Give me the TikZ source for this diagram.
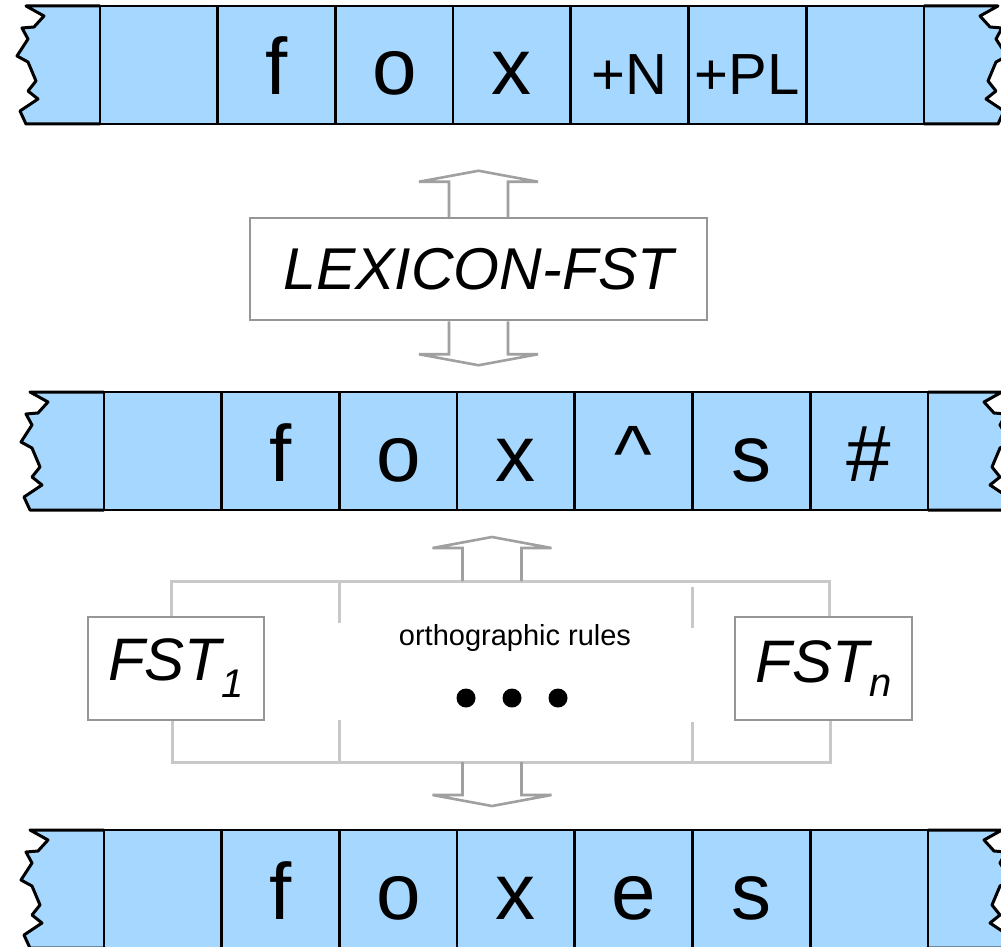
\documentclass[tikz,border=0pt]{standalone}
\usepackage{fontspec}
\setmainfont{Liberation Sans}
\usetikzlibrary{calc}
\definecolor{tapeblue}{RGB}{166,216,255}
\definecolor{boxgray}{RGB}{150,150,150}
\definecolor{rulegray}{RGB}{200,200,200}
\definecolor{arrowgray}{RGB}{160,160,160}
\newcommand\tagfont{\fontsize{58}{66}\selectfont}
\tikzset{
	cell/.style={draw=black, line width=2.7pt, fill=tapeblue, minimum width=117.7pt, minimum height=118pt, inner sep=0pt, text height=60pt, text depth=0pt, font=\fontsize{80}{90}\selectfont},
	fstbox/.style={draw=boxgray, line width=2.5pt, fill=white, inner sep=0pt, font=\itshape\fontsize{60}{70}\selectfont},
	bracket/.style={draw=rulegray, line width=3pt},
	arrowline/.style={draw=arrowgray, line width=2.6pt, line join=miter}
}
% hollow block arrow: base point, length, direction (1 = down, -1 = up)
\def\hollowarrow[#1](#2)(#3:#4){\draw[#1, shift={(#2)}, yscale=#4] (-29.5, 0) -- (-29.5, #3-11) -- (-59.5, #3-11) -- (0, #3) -- (59.5, #3-11) -- (29.5, #3-11) -- (29.5, 0);}
% one tape: name, top left corner of first cell, labels of the seven cells
\def\tapestrip#1(#2)#3{%
	\begin{scope}[shift={(#2)}]
		\filldraw[fill=tapeblue, draw=black, line width=3pt, line join=round] (0, 0) -- (-74, 0) -- (-56, 10) -- (-66, 21) -- (-78, 22) -- (-72, 33) -- (-83, 50) -- (-72, 56) -- (-64, 75) -- (-72, 85) -- (-62, 93) -- (-80, 105) -- (-74, 118) -- (0, 118);
		\filldraw[fill=tapeblue, draw=black, line width=3pt, line join=round] (823.9, 0) -- (898, 0) -- (880, 10) -- (890, 21) -- (902, 22) -- (896, 33) -- (907, 50) -- (896, 56) -- (888, 75) -- (896, 85) -- (886, 93) -- (904, 105) -- (898, 118) -- (823.9, 118);
		\foreach \lab [count=\i] in {#3}
			\node[cell] (#1-\i) at ({(\i-0.5)*117.7}, 59) {\lab};
	\end{scope}}

\begin{document}
\begin{tikzpicture}[x=1pt, y=-1pt]
	%%%%% START %%%%%
	\useasboundingbox (0, 0) rectangle (1001, 947);
	
	\tapestrip{lexical}(100, 6){{}, f, o, x, \tagfont +N, \tagfont +PL, {}}
	\tapestrip{intermediate}(104, 392){{}, f, o, x, \textasciicircum, s, \#}
	\tapestrip{surface}(104, 830){{}, f, o, x, e, s, {}}
	
	\node[fstbox, minimum width=457pt, minimum height=102pt, font=\itshape\fontsize{59}{70}\selectfont] (lexicon) at (478.5, 269) {LEXICON-FST};
	\hollowarrow[arrowline](lexicon.north)(46:-1)
	\hollowarrow[arrowline](lexicon.south)(44:1)
	
	\node[fstbox, minimum width=176pt, minimum height=103pt] (fst1) at (176, 668.5) {FST\raisebox{-17pt}{\fontsize{40}{48}\selectfont 1}};
	\node[fstbox, minimum width=177pt, minimum height=103pt] (fstn) at (823.5, 668.5) {FST\raisebox{-14pt}{\fontsize{40}{48}\selectfont n}};
	\node[font=\fontsize{29}{34}\selectfont] (rules) at (515, 638) {orthographic rules};
	\fill (466, 698) circle (9.5);
	\fill (512, 698) circle (9.5);
	\fill (558, 698) circle (9.5);
	
	\coordinate (tl) at (171, 581);
	\coordinate (tr) at (829, 581);
	\coordinate (bl) at (172, 762);
	\coordinate (br) at (830, 762);
	\draw[bracket] (fst1.north -| tl) -- (tl) -- (tr) -- (fstn.north -| tr);
	\draw[bracket] (fst1.south -| bl) -- (bl) -- (br) -- (fstn.south -| br);
	\draw[bracket] (339, 581) -- (339, 623);
	\draw[bracket] (339, 720) -- (339, 762);
	\draw[bracket] (692, 587) -- (692, 628);
	\draw[bracket] (692, 722) -- (692, 762);
	
	\coordinate (ruleout) at (492, 581);
	\coordinate (rulein) at (492, 762);
	\hollowarrow[arrowline](ruleout)(44:-1)
	\hollowarrow[arrowline](rulein)(44:1)
	%%%%% END %%%%%
\end{tikzpicture}
\end{document}
